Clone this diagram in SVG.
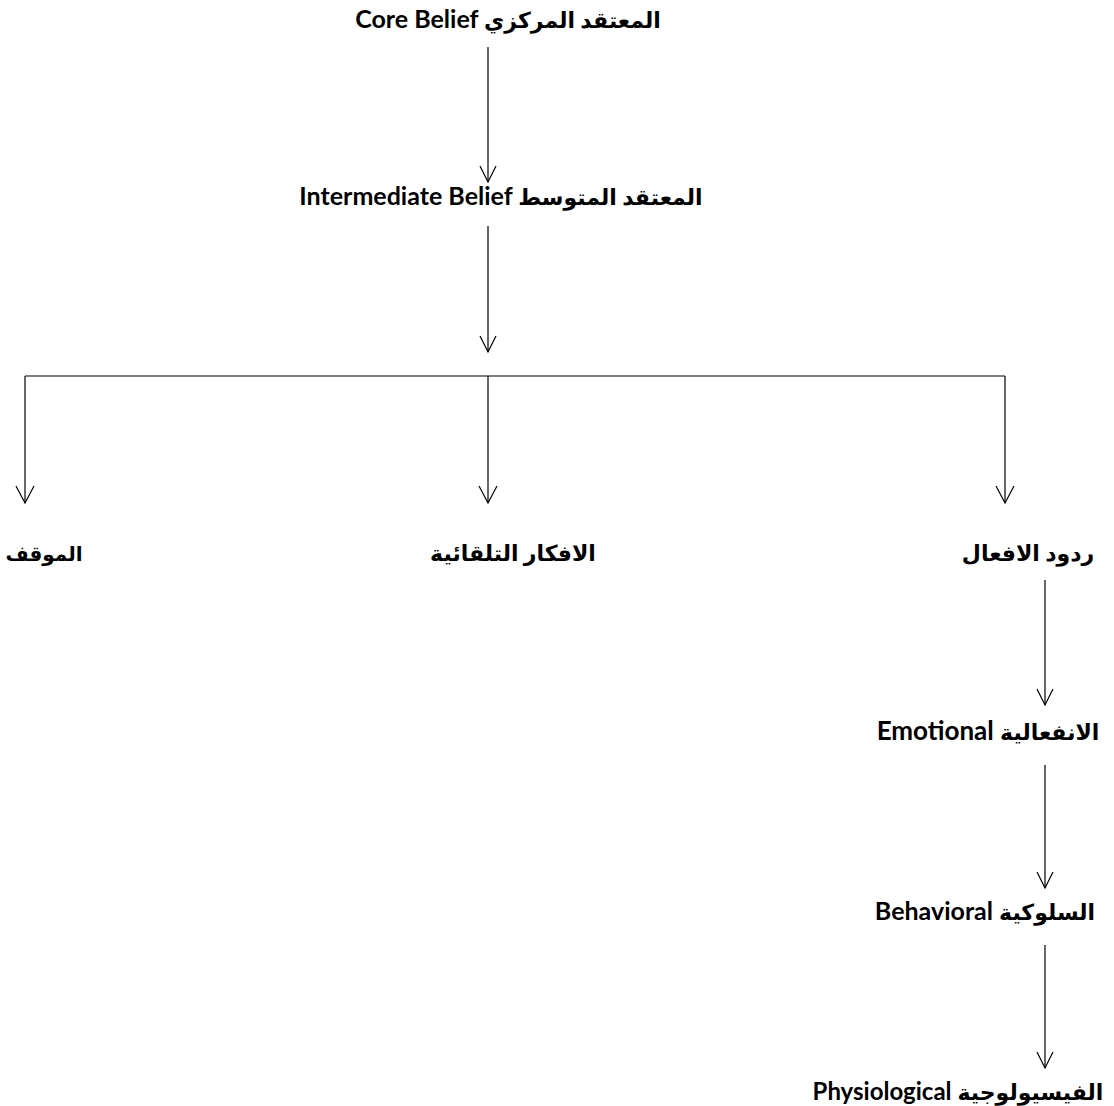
<svg xmlns="http://www.w3.org/2000/svg" width="1114" height="1106" viewBox="0 0 1114 1106">
  <style>
    .lbl { font-family: Lato, "Noto Sans", "DejaVu Sans", sans-serif; font-weight: bold; font-size: 25px; fill: #000; }
    .ar { font-size: 22px; }
    .ln { stroke: #000; stroke-width: 1.2; fill: none; }
  </style>

  <g id="connectors">
    <line class="ln" x1="488" y1="47" x2="488" y2="182"/>
    <path class="ln" d="M480,166 L488,182 L496,166"/>
    <line class="ln" x1="488" y1="226" x2="488" y2="352"/>
    <path class="ln" d="M480,336 L488,352 L496,336"/>
    <line class="ln" x1="25" y1="376" x2="1005" y2="376"/>
    <line class="ln" x1="25" y1="376" x2="25" y2="503"/>
    <path class="ln" d="M16,486 L25,503 L34,486"/>
    <line class="ln" x1="488" y1="376" x2="488" y2="503"/>
    <path class="ln" d="M479,486 L488,503 L497,486"/>
    <line class="ln" x1="1005" y1="376" x2="1005" y2="503"/>
    <path class="ln" d="M996,486 L1005,503 L1014,486"/>
    <line class="ln" x1="1045" y1="580" x2="1045" y2="705"/>
    <path class="ln" d="M1037,689 L1045,705 L1053,689"/>
    <line class="ln" x1="1045" y1="765" x2="1045" y2="888"/>
    <path class="ln" d="M1037,872 L1045,888 L1053,872"/>
    <line class="ln" x1="1045" y1="945" x2="1045" y2="1068"/>
    <path class="ln" d="M1037,1052 L1045,1068 L1053,1052"/>
  </g>

  <g id="core-belief">
    <text class="lbl" x="508" y="28" text-anchor="middle">Core Belief <tspan class="ar">المعتقد المركزي</tspan></text>
  </g>
  <g id="intermediate-belief">
    <text class="lbl" x="501" y="205" text-anchor="middle">Intermediate Belief <tspan class="ar">المعتقد المتوسط</tspan></text>
  </g>
  <g id="situation">
    <text class="lbl ar" x="44" y="561" text-anchor="middle" style="font-size:20px">الموقف</text>
  </g>
  <g id="automatic-thoughts">
    <text class="lbl ar" x="513" y="561" text-anchor="middle">الافكار التلقائية</text>
  </g>
  <g id="reactions">
    <text class="lbl ar" x="1028" y="561" text-anchor="middle">ردود الافعال</text>
  </g>
  <g id="emotional">
    <text class="lbl" x="988" y="740" text-anchor="middle" style="font-size:26px">Emotional <tspan class="ar">الانفعالية</tspan></text>
  </g>
  <g id="behavioral">
    <text class="lbl" x="985" y="920" text-anchor="middle">Behavioral <tspan class="ar">السلوكية</tspan></text>
  </g>
  <g id="physiological">
    <text class="lbl" x="958" y="1100" text-anchor="middle" style="font-size:24px">Physiological <tspan class="ar">الفيسيولوجية</tspan></text>
  </g>
</svg>
